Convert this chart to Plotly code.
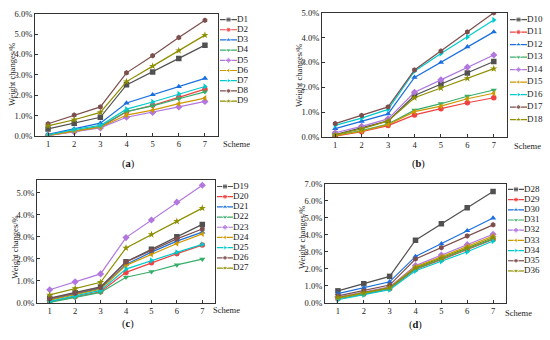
import plotly.graph_objects as go

W, H = 550, 340

schemes = [1, 2, 3, 4, 5, 6, 7]

# Panel (a)
D1 = [0.35, 0.63, 0.92, 2.51, 3.14, 3.81, 4.46]
D2 = [0.03, 0.25, 0.44, 1.19, 1.51, 1.90, 2.30]
D3 = [0.08, 0.35, 0.63, 1.62, 2.03, 2.43, 2.83]
D4 = [0.05, 0.27, 0.48, 1.20, 1.48, 1.83, 2.17]
D5 = [0.02, 0.20, 0.40, 0.92, 1.16, 1.43, 1.70]
D6 = [0.03, 0.24, 0.43, 1.03, 1.27, 1.59, 1.86]
D7 = [0.05, 0.32, 0.52, 1.32, 1.67, 2.06, 2.43]
D8 = [0.60, 1.03, 1.43, 3.10, 3.94, 4.83, 5.68]
D9 = [0.50, 0.80, 1.16, 2.67, 3.43, 4.19, 4.95]

# Panel (b)
D10 = [0.10, 0.37, 0.65, 1.67, 2.13, 2.58, 3.04]
D11 = [0.03, 0.21, 0.46, 0.89, 1.14, 1.38, 1.58]
D12 = [0.34, 0.63, 0.93, 2.40, 3.00, 3.63, 4.23]
D13 = [0.07, 0.26, 0.52, 1.08, 1.34, 1.64, 1.89]
D14 = [0.17, 0.43, 0.73, 1.80, 2.30, 2.81, 3.30]
D15 = [0.05, 0.23, 0.50, 1.02, 1.24, 1.54, 1.76]
D16 = [0.47, 0.76, 1.11, 2.65, 3.36, 4.02, 4.71]
D17 = [0.54, 0.87, 1.21, 2.70, 3.46, 4.23, 5.00]
D18 = [0.09, 0.33, 0.65, 1.58, 1.97, 2.36, 2.75]

# Panel (c)
D19 = [0.22, 0.47, 0.73, 1.87, 2.44, 3.01, 3.57]
D20 = [0.06, 0.28, 0.51, 1.39, 1.83, 2.24, 2.63]
D21 = [0.15, 0.39, 0.66, 1.75, 2.31, 2.81, 3.22]
D22 = [0.03, 0.25, 0.48, 1.17, 1.42, 1.73, 1.99]
D23 = [0.60, 0.96, 1.32, 2.97, 3.77, 4.58, 5.35]
D24 = [0.13, 0.37, 0.63, 1.71, 2.21, 2.70, 3.14]
D25 = [0.07, 0.31, 0.57, 1.54, 1.93, 2.30, 2.66]
D26 = [0.19, 0.44, 0.70, 1.86, 2.38, 2.91, 3.36]
D27 = [0.37, 0.66, 0.94, 2.50, 3.11, 3.71, 4.31]

# Panel (d)
D28 = [0.71, 1.13, 1.56, 3.68, 4.64, 5.59, 6.53]
D29 = [0.25, 0.52, 0.84, 1.97, 2.54, 3.11, 3.72]
D30 = [0.55, 0.88, 1.24, 2.73, 3.47, 4.24, 4.98]
D31 = [0.27, 0.53, 0.86, 2.00, 2.58, 3.15, 3.76]
D32 = [0.34, 0.63, 0.94, 2.19, 2.81, 3.42, 4.03]
D33 = [0.29, 0.57, 0.90, 2.12, 2.71, 3.32, 3.93]
D34 = [0.19, 0.48, 0.78, 1.89, 2.44, 3.00, 3.63]
D35 = [0.42, 0.72, 1.05, 2.58, 3.24, 3.93, 4.58]
D36 = [0.32, 0.59, 0.90, 2.06, 2.63, 3.23, 3.84]

names_a = ["D1", "D2", "D3", "D4", "D5", "D6", "D7", "D8", "D9"]
names_b = ["D10", "D11", "D12", "D13", "D14", "D15", "D16", "D17", "D18"]
names_c = ["D19", "D20", "D21", "D22", "D23", "D24", "D25", "D26", "D27"]
names_d = ["D28", "D29", "D30", "D31", "D32", "D33", "D34", "D35", "D36"]

series_a = [D1, D2, D3, D4, D5, D6, D7, D8, D9]
series_b = [D10, D11, D12, D13, D14, D15, D16, D17, D18]
series_c = [D19, D20, D21, D22, D23, D24, D25, D26, D27]
series_d = [D28, D29, D30, D31, D32, D33, D34, D35, D36]

y_title = "Weight changes/%"
x_title = "Scheme"
captions = ["a", "b", "c", "d"]

colors = ["#515151", "#F14040", "#1A6FDF", "#37AD6B", "#B177DE",
          "#CC9900", "#00CBCC", "#7D4E4E", "#8E8E00"]
symbols = ["square", "circle", "triangle-up", "triangle-down", "diamond",
           "triangle-left", "triangle-right", "hexagon", "star"]

FONT = "Liberation Serif"
TXT = "#222222"
FS = 8.5

def clamp(v):
    return max(0.0, min(1.0, v))

def fx(px):
    return clamp(px / W)

def fy(py):
    return clamp(1 - py / H)

panels = [
    dict(names=names_a, series=series_a, box=(35, 218, 9, 135), yr=(0, 6),
         leg=(220, 237, 15, 99), ytitle=(12, 72), scheme=(221, 143), cap=(128, 164)),
    dict(names=names_b, series=series_b, box=(322, 507, 8, 136), yr=(0, 5),
         leg=(510, 527, 15, 118), ytitle=(299, 72), scheme=(512, 145), cap=(418, 164)),
    dict(names=names_c, series=series_c, box=(37, 215, 180, 307), yr=(0, 5.6),
         leg=(217, 233, 187, 271), ytitle=(15, 250), scheme=(211, 314), cap=(128, 329)),
    dict(names=names_d, series=series_d, box=(325, 506, 184, 307), yr=(0, 7),
         leg=(508, 524, 190, 274), ytitle=(302, 240), scheme=(503, 317), cap=(415, 330)),
]

fig = go.Figure()
layout = dict(
    width=W, height=H, margin=dict(l=0, r=0, t=0, b=0),
    paper_bgcolor="white", plot_bgcolor="white",
    showlegend=False, font=dict(family=FONT, size=FS, color=TXT),
)
annotations = []

for k, p in enumerate(panels):
    i = k + 1
    j = k + 5
    x0, x1, y0, y1 = p["box"]
    xa = "x" if i == 1 else f"x{i}"
    ya = "y" if i == 1 else f"y{i}"
    layout["xaxis" if i == 1 else f"xaxis{i}"] = dict(
        domain=[fx(x0), fx(x1)], anchor=ya, range=[0.5, 7.5],
        tickvals=schemes, ticks="inside", ticklen=3, tickcolor="#333",
        showline=True, linecolor="#333", linewidth=1, mirror=True,
        showgrid=False, zeroline=False,
        tickfont=dict(family=FONT, size=FS, color=TXT),
    )
    layout["yaxis" if i == 1 else f"yaxis{i}"] = dict(
        domain=[fy(y1), fy(y0)], anchor=xa, range=list(p["yr"]), dtick=1,
        tickformat=".1f", ticksuffix="%", ticks="inside", ticklen=3, tickcolor="#333",
        showline=True, linecolor="#333", linewidth=1, mirror=True,
        showgrid=False, zeroline=False, ticklabeloverflow="allow",
        tickfont=dict(family=FONT, size=FS, color=TXT),
    )
    for s, (nm, vals) in enumerate(zip(p["names"], p["series"])):
        fig.add_trace(go.Scatter(
            x=schemes, y=vals, mode="lines+markers", name=nm,
            xaxis=xa, yaxis=ya,
            line=dict(color=colors[s], width=1.2),
            marker=dict(symbol=symbols[s], size=5.5, color=colors[s]),
        ))

    # legend drawn on a hidden helper axis
    lx0, lx1, ly0, ly1 = p["leg"]
    n = len(p["names"])
    sp = (ly1 - ly0) / (n - 1)
    layout[f"xaxis{j}"] = dict(domain=[fx(lx0), fx(lx1)], anchor=f"y{j}",
                               range=[0, 1], visible=False, fixedrange=True)
    layout[f"yaxis{j}"] = dict(domain=[fy(ly1 + sp / 2), fy(ly0 - sp / 2)],
                               anchor=f"x{j}", range=[n + 0.5, 0.5],
                               visible=False, fixedrange=True)
    for s, nm in enumerate(p["names"]):
        fig.add_trace(go.Scatter(
            x=[0, 0.5, 1], y=[s + 1] * 3, mode="lines+markers+text",
            xaxis=f"x{j}", yaxis=f"y{j}",
            text=["", "", nm], textposition="middle right",
            textfont=dict(family=FONT, size=FS + 0.5, color=TXT),
            line=dict(color=colors[s], width=1.2),
            marker=dict(symbol=symbols[s], size=[0, 5, 0], color=colors[s]),
            cliponaxis=False, hoverinfo="skip",
        ))

    tx, ty = p["ytitle"]
    annotations.append(dict(text=y_title, x=fx(tx), y=fy(ty), xref="paper", yref="paper",
                            textangle=-90, showarrow=False, xanchor="center", yanchor="middle",
                            font=dict(family=FONT, size=FS, color=TXT)))
    sx, sy = p["scheme"]
    annotations.append(dict(text=x_title, x=fx(sx), y=fy(sy), xref="paper", yref="paper",
                            showarrow=False, xanchor="left", yanchor="middle",
                            font=dict(family=FONT, size=FS, color=TXT)))
    cx, cy = p["cap"]
    annotations.append(dict(text="(<b>" + captions[k] + "</b>)", x=fx(cx), y=fy(cy),
                            xref="paper", yref="paper", showarrow=False,
                            xanchor="center", yanchor="middle",
                            font=dict(family=FONT, size=10.5, color="#111")))

layout["annotations"] = annotations
fig.update_layout(**layout)
# remove the default 8px page margin so the 550x340 figure fills the window exactly
fig.write_html("out.html",
               config={"displayModeBar": False},
               post_script="document.body.style.margin='0';document.body.style.overflow='hidden';")
